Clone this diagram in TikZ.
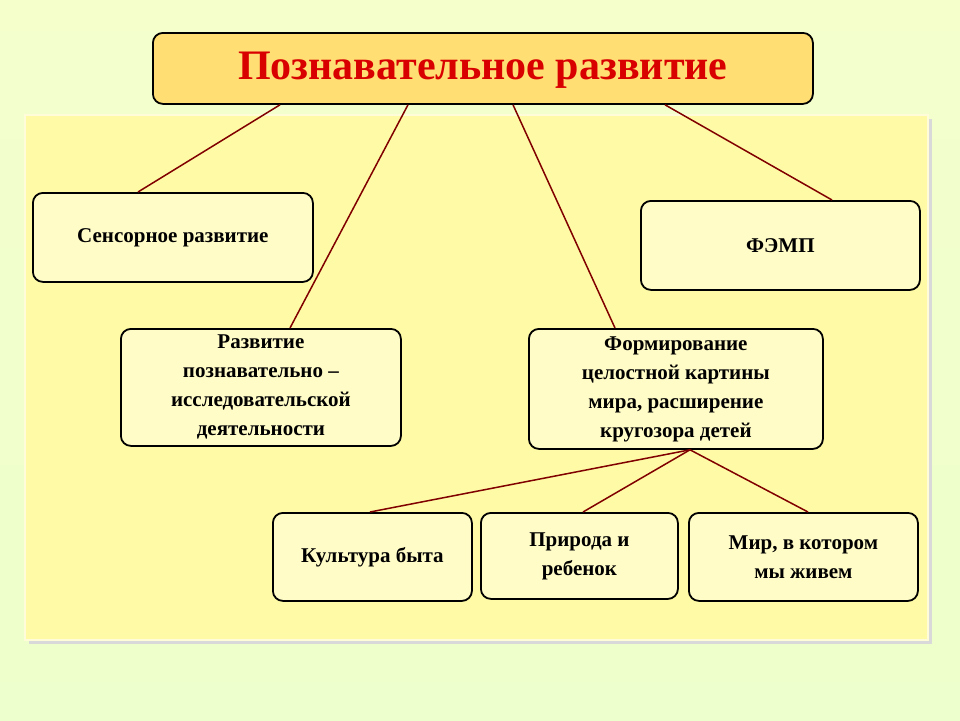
\documentclass[tikz,border=0pt]{standalone}
\usepackage{fontspec}
\setmainfont{Liberation Serif}
\begin{document}
\begin{tikzpicture}[x=1pt,y=-1pt,
  box/.style={draw=black,line width=1.8pt,rounded corners=10pt,fill=yellow!22,
    font=\bfseries\fontsize{21}{29}\selectfont,align=center,anchor=north west,inner sep=2pt},
  link/.style={draw=red!50!black,line width=1.5pt}]
\shade[top color=green!22!yellow!20,bottom color=green!35!yellow!20] (0,0) rectangle (960,720);
\useasboundingbox (0,0) rectangle (960,720);
\fill[black!15] (29,119) rectangle (932,644);
\fill[yellow!35,draw=yellow!15!white,line width=2pt] (25,115) rectangle (928,640);
\node[box,fill=orange!45!yellow!55,minimum width=660pt,minimum height=71pt,text=red!85!black,
  font=\bfseries\fontsize{42}{48}\selectfont,text depth=4pt,text height=26pt] (title) at (152,32) {Познавательное развитие};
\node[box,minimum width=280pt,minimum height=89pt] (sens) at (32,192) {Сенсорное развитие};
\node[box,minimum width=279pt,minimum height=89pt] (femp) at (640,200) {ФЭМП};
\node[box,minimum width=280pt,minimum height=117pt] (razv) at (120,328) {Развитие\\познавательно –\\исследовательской\\деятельности};
\node[box,minimum width=294pt,minimum height=120pt] (form) at (528,328) {Формирование\\целостной картины\\мира, расширение\\кругозора детей};
\node[box,minimum width=199pt,minimum height=88pt] (kult) at (272,512) {Культура быта};
\node[box,minimum width=197pt,minimum height=86pt] (prir) at (480,512) {Природа и\\ребенок\hspace{1.2em}};
\node[box,minimum width=229pt,minimum height=88pt] (mir) at (688,512) {Мир, в котором\\мы живем\hspace{1.5em}};
\draw[link] ([xshift=128pt]title.south west) -- ([xshift=106pt]sens.north west);
\draw[link] ([xshift=256pt]title.south west) -- ([xshift=170pt]razv.north west);
\draw[link] ([xshift=361pt]title.south west) -- ([xshift=87pt]form.north west);
\draw[link] ([xshift=513pt]title.south west) -- ([xshift=192pt]femp.north west);
\coordinate (fb) at ([xshift=162pt]form.south west);
\draw[link] (fb) -- ([xshift=98pt]kult.north west);
\draw[link] (fb) -- ([xshift=103pt]prir.north west);
\draw[link] (fb) -- ([xshift=120pt]mir.north west);
\end{tikzpicture}
\end{document}
